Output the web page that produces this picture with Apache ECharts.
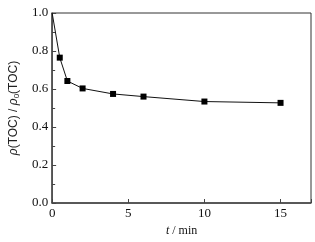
<!DOCTYPE html>
<html><head><meta charset="utf-8">
<script src="https://cdn.jsdelivr.net/npm/echarts@6/dist/echarts.min.js"></script>
<style>html,body{margin:0;padding:0;background:#fff}#c{width:315px;height:242px}</style>
</head><body><div id="c"></div>
<script>
var times = [0, 0.5, 1, 2, 4, 6, 10, 15];
var ratios = [1.0, 0.765, 0.642, 0.603, 0.574, 0.560, 0.534, 0.527];
var xTicks = [0, 5, 10, 15];
var yTicks = [0.0, 0.2, 0.4, 0.6, 0.8, 1.0];

var chart = echarts.init(document.getElementById('c'));
var serif = 'Liberation Serif';
var sans = 'Liberation Sans';
var data = times.map(function (t, i) {
  return i === 0 ? { value: [t, ratios[i]], symbolSize: 0 } : [t, ratios[i]];
});
chart.setOption({
  animation: false,
  grid: { left: 52, top: 13, right: 4, bottom: 38, show: true, borderColor: '#333', borderWidth: 1 },
  xAxis: {
    type: 'value', min: 0, max: 17, interval: 5,
    name: '{i|t} / min', nameLocation: 'middle', nameGap: 22,
    nameTextStyle: { fontFamily: serif, fontSize: 12, color: '#111', rich: { i: { fontStyle: 'italic', fontFamily: serif, fontSize: 12 } } },
    axisLine: { lineStyle: { color: '#444', width: 1.5 } },
    axisTick: { inside: true, length: 4, lineStyle: { color: '#444' } },
    axisLabel: { fontFamily: serif, fontSize: 13, color: '#111', margin: 4,
      formatter: function (v) { return xTicks.indexOf(v) >= 0 ? String(v) : ''; } },
    splitLine: { show: false }
  },
  yAxis: {
    type: 'value', min: 0, max: 1, interval: 0.2,
    name: '{i|ρ}(TOC) / {i|ρ}{s|0}(TOC)', nameLocation: 'middle', nameGap: 27, nameRotate: 90,
    nameTextStyle: { fontFamily: sans, fontSize: 12, color: '#222',
      rich: { i: { fontStyle: 'italic', fontSize: 12, fontFamily: sans },
              s: { fontSize: 8, verticalAlign: 'bottom', padding: [6, 0, 0, 0], fontFamily: sans } } },
    axisLine: { show: true, lineStyle: { color: '#444', width: 1.5 } },
    axisTick: { inside: true, length: 4, lineStyle: { color: '#444' } },
    minorTick: { show: true, splitNumber: 2, length: 3, lineStyle: { color: '#444' } },
    axisLabel: { fontFamily: serif, fontSize: 13, color: '#111', margin: 4,
      formatter: function (v) {
        var r = Math.round(v * 10) / 10;
        for (var k = 0; k < yTicks.length; k++) if (Math.abs(yTicks[k] - r) < 1e-9) return r.toFixed(1);
        return '';
      } },
    splitLine: { show: false }
  },
  series: [{
    type: 'line', data: data, smooth: false,
    symbol: 'rect', symbolSize: 6,
    lineStyle: { color: '#111', width: 1 },
    itemStyle: { color: '#000' }
  }]
});
</script></body></html>
